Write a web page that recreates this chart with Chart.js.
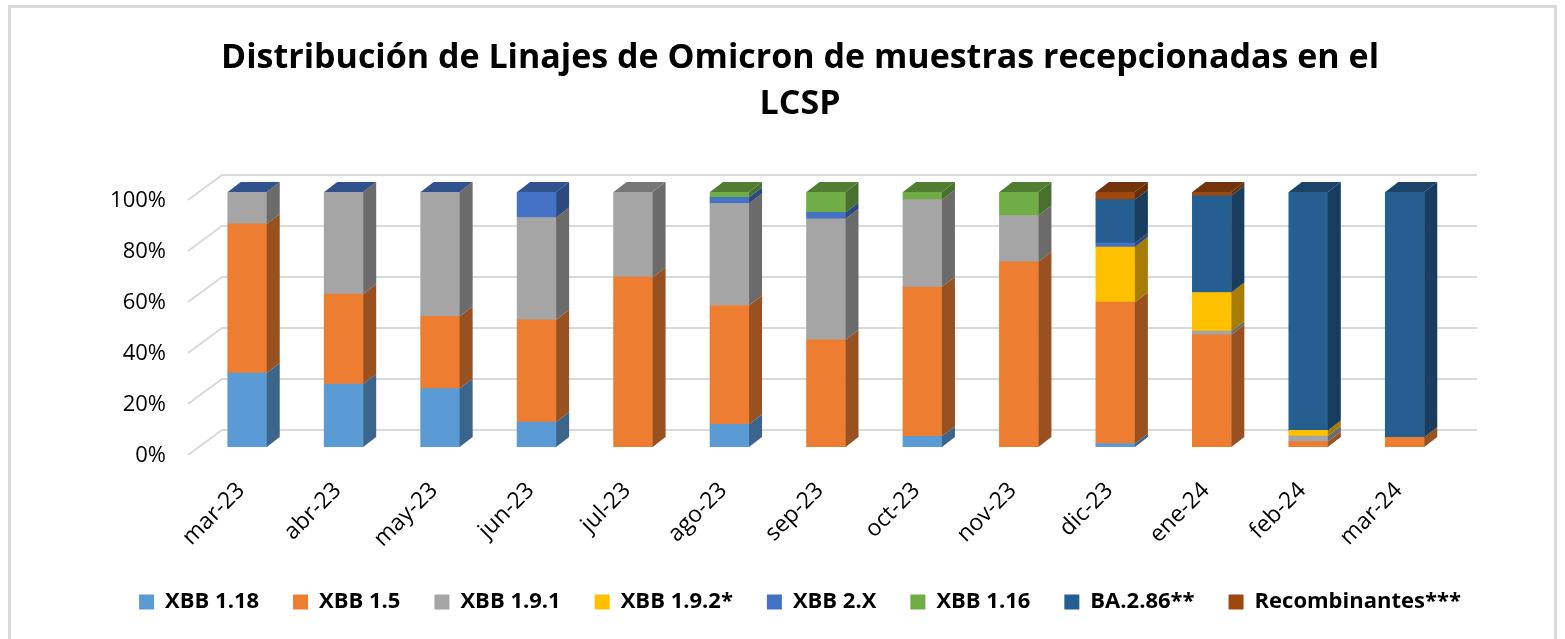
<!DOCTYPE html>
<html lang="es">
<head>
  <meta charset="UTF-8">
  <title>Distribución de Linajes de Omicron</title>
  <style>
    body { margin: 0; background: #fff; }
  </style>
</head>
<body>
  <canvas id="chart" width="1565" height="639"></canvas>
  <script src="https://cdn.jsdelivr.net/npm/chart.js@4.4.1/dist/chart.umd.min.js"></script>
  <script>
  const meses = ['mar-23', 'abr-23', 'may-23', 'jun-23', 'jul-23', 'ago-23', 'sep-23', 'oct-23', 'nov-23', 'dic-23', 'ene-24', 'feb-24', 'mar-24']

  // porcentajes (null = sin muestras)
  const xbb118 = [29, 24.7, 22.9, 9.8, null, 8.9, null, 4.2, null, 1.3, null, null, null]
  const xbb15 = [58.5, 35.3, 28.3, 40.1, 66.6, 46.6, 42, 58.5, 72.6, 55.5, 44, 2.1, 3.8]
  const xbb191 = [12.5, 40, 48.8, 40.1, 33.4, 40, 47.5, 34.3, 18.2, null, 1.5, 2.2, null]
  const xbb192 = [null, null, null, null, null, null, null, null, null, 21.6, 15.1, 2.2, null]
  const xbb2x = [0, 0, 0, 10, null, 2.4, 2.5, null, null, 1.6, null, null, null]
  const xbb116 = [null, null, null, null, null, 2.1, 8, 3, 9.2, null, null, null, null]
  const ba286 = [null, null, null, null, null, null, null, null, null, 17, 37.9, 93.5, 96.2]
  const recomb = [null, null, null, null, null, null, null, null, null, 3, 1.5, null, null]

  const yTicks = [0, 20, 40, 60, 80, 100]

  const series = [
    { label: 'XBB 1.18', data: xbb118, color: '#5B9BD5' },
    { label: 'XBB 1.5', data: xbb15, color: '#ED7D31' },
    { label: 'XBB 1.9.1', data: xbb191, color: '#A5A5A5' },
    { label: 'XBB 1.9.2*', data: xbb192, color: '#FFC000' },
    { label: 'XBB 2.X', data: xbb2x, color: '#4472C4' },
    { label: 'XBB 1.16', data: xbb116, color: '#70AD47' },
    { label: 'BA.2.86**', data: ba286, color: '#255E91' },
    { label: 'Recombinantes***', data: recomb, color: '#9E480E' },
  ]

  const DX = 13, DY = 10
  const FONT = "'Open Sans', sans-serif"

  const shade = (hex, f) => {
    const n = parseInt(hex.slice(1), 16)
    const r = Math.round(((n >> 16) & 255) * f)
    const g = Math.round(((n >> 8) & 255) * f)
    const b = Math.round((n & 255) * f)
    return `rgb(${r},${g},${b})`
  }

  const poly = (ctx, pts, fill) => {
    ctx.beginPath()
    ctx.moveTo(pts[0][0], pts[0][1])
    for (let k = 1; k < pts.length; k++) ctx.lineTo(pts[k][0], pts[k][1])
    ctx.closePath()
    ctx.fillStyle = fill
    ctx.fill()
  }

  // marco, rejilla "3D" y caras laterales / superiores de las barras
  const excel3d = {
    id: 'excel3d',
    beforeDraw(chart) {
      const ctx = chart.ctx
      ctx.save()
      ctx.strokeStyle = '#D9D9D9'
      ctx.lineWidth = 3
      ctx.strokeRect(9.5, 6.5, 1546, 700)
      ctx.restore()
    },
    beforeDatasetsDraw(chart) {
      const ctx = chart.ctx
      const y = chart.scales.y
      const left = chart.chartArea.left
      ctx.save()
      ctx.strokeStyle = '#D9D9D9'
      ctx.lineWidth = 2
      yTicks.forEach(v => {
        const py = y.getPixelForValue(v)
        ctx.beginPath()
        ctx.moveTo(left - 11, py + 8)
        ctx.lineTo(left + 23, py - 17)
        ctx.lineTo(1477, py - 17)
        ctx.stroke()
      })
      ctx.restore()
    },
    afterDatasetsDraw(chart) {
      const ctx = chart.ctx
      ctx.save()
      meses.forEach((m, i) => {
        let topIdx = -1
        series.forEach((s, d) => {
          const v = s.data[i]
          if (v === null) return
          topIdx = d
          if (v <= 0) return
          const el = chart.getDatasetMeta(d).data[i]
          const r = el.x + el.width / 2
          poly(ctx, [[r, el.y], [r + DX, el.y - DY], [r + DX, el.base - DY], [r, el.base]], shade(s.color, 0.65))
        })
        if (topIdx < 0) return
        const el = chart.getDatasetMeta(topIdx).data[i]
        const l = el.x - el.width / 2, r = el.x + el.width / 2
        poly(ctx, [[l, el.y], [l + DX, el.y - DY], [r + DX, el.y - DY], [r, el.y]], shade(series[topIdx].color, 0.72))
      })
      ctx.restore()
    }
  }

  new Chart(document.getElementById('chart'), {
    type: 'bar',
    data: {
      labels: meses,
      datasets: series.map(s => ({
        label: s.label,
        data: s.data,
        backgroundColor: s.color,
        borderWidth: 0,
        barThickness: 39,
      }))
    },
    options: {
      responsive: false,
      animation: false,
      layout: { padding: { left: 80, right: 45, top: 0, bottom: 16 } },
      scales: {
        x: {
          stacked: true,
          grid: { display: false, drawTicks: false },
          border: { display: false },
          ticks: {
            autoSkip: false,
            minRotation: 45,
            maxRotation: 45,
            padding: 30,
            labelOffset: -6,
            color: '#000',
            font: { family: FONT, size: 23 }
          },
          afterFit: s => { s.height = 110 }
        },
        y: {
          stacked: true,
          min: 0,
          max: 100,
          grid: { display: false, drawTicks: false },
          border: { display: false },
          ticks: {
            stepSize: 20,
            padding: 33,
            labelOffset: 9,
            color: '#000',
            font: { family: FONT, size: 22 },
            callback: v => v + '%'
          },
          afterFit: s => { s.width = 119 }
        },
        y2: {
          position: 'right',
          grid: { display: false, drawTicks: false },
          border: { display: false },
          ticks: { display: false },
          afterFit: s => { s.width = 67 }
        }
      },
      plugins: {
        title: {
          display: true,
          text: ['Distribución de Linajes de Omicron de muestras recepcionadas en el', 'LCSP'],
          color: '#000',
          font: { family: FONT, size: 34, weight: 'bold', lineHeight: 1.35 },
          padding: { top: 35, bottom: 65.2 }
        },
        legend: {
          position: 'bottom',
          labels: {
            boxWidth: 15,
            boxHeight: 15,
            padding: 34,
            color: '#000',
            font: { family: FONT, size: 22, weight: 'bold' }
          }
        },
        tooltip: { enabled: false }
      }
    },
    plugins: [excel3d]
  })
  </script>
</body>
</html>
